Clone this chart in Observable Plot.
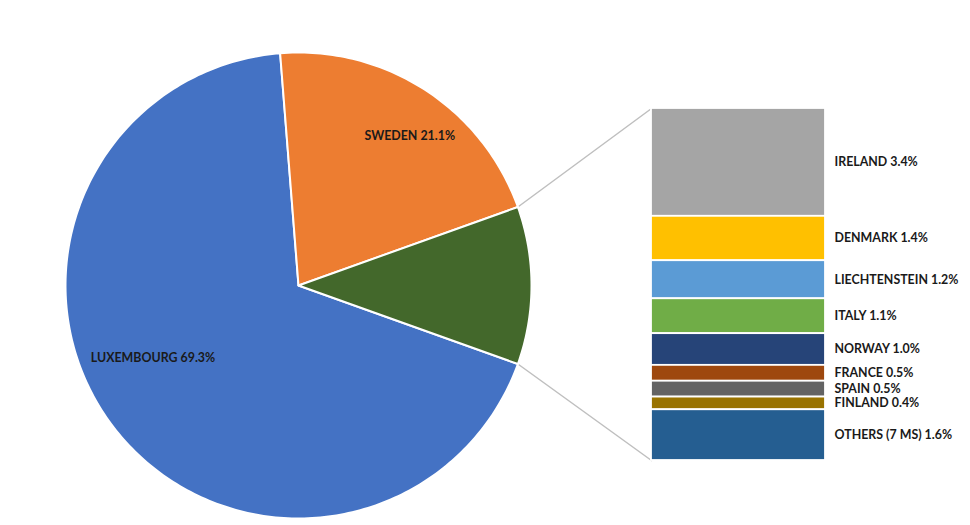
<!DOCTYPE html>
<html><head><meta charset="utf-8">
<script src="https://cdn.jsdelivr.net/npm/d3@7"></script>
<script src="https://cdn.jsdelivr.net/npm/@observablehq/plot@0.6"></script>
<style>body{margin:0;background:#fff;font-family:Lato,sans-serif;}</style>
</head><body><div id="chart"></div>
<script>
// ---- data ----
const pieNames = ["LUXEMBOURG", "SWEDEN", "OTHER"];
const pieValues = [69.3, 21.1, 11.1];
const pieColors = ["#4472C4", "#ED7D31", "#43682B"];
const pieLabels = ["LUXEMBOURG 69.3%", "SWEDEN 21.1%", null];

const barNames = ["IRELAND", "DENMARK", "LIECHTENSTEIN", "ITALY", "NORWAY", "FRANCE", "SPAIN", "FINLAND", "OTHERS (7 MS)"];
const barValues = [3.4, 1.4, 1.2, 1.1, 1.0, 0.5, 0.5, 0.4, 1.6];
const barColors = ["#A5A5A5", "#FFC000", "#5B9BD5", "#70AD47", "#264478", "#9E480E", "#636363", "#997300", "#255E91"];

// ---- layout (unit = pie radius) ----
const W = 970, H = 525, R = 233, cx = 298, cy = 285;
const xDom = [-cx / R, (W - cx) / R];
const yDom = [-(H - cy) / R, cy / R];
const barX1 = (651 - cx) / R, barX2 = (825 - cx) / R;
const barTop = (cy - 108) / R, barBottom = -(460 - cy) / R;
const labelX = (834 - cx) / R;
const FS = 12.4;

const pieTotal = d3.sum(pieValues);
const otherSpan = pieValues[2] / pieTotal * 360;
const slices = [];
{
  const otherStart = 90 - otherSpan / 2, otherEnd = 90 + otherSpan / 2;
  const swedenStart = otherStart - pieValues[1] / pieTotal * 360;
  slices.push({i: 0, a0: otherEnd, a1: swedenStart + 360});
  slices.push({i: 1, a0: swedenStart, a1: otherStart});
  slices.push({i: 2, a0: otherStart, a1: otherEnd});
}
const rad = d => d * Math.PI / 180;
function slicePoly(s) {
  const pts = [{x: 0, y: 0}];
  const n = Math.max(4, Math.ceil(s.a1 - s.a0));
  for (let k = 0; k <= n; k++) {
    const t = rad(s.a0 + (s.a1 - s.a0) * k / n);
    pts.push({x: Math.sin(t), y: Math.cos(t)});
  }
  pts.push({x: 0, y: 0});
  return pts;
}

// pie label placement: radius and pixel nudges
const pieLabelR = [0.7, 0.8, 0];
const pieLabelDx = [-16, 10, 0];
const pieLabelDy = [-27, 7, 0];
const pieText = slices.filter(s => pieLabels[s.i]).map(s => {
  const m = rad((s.a0 + s.a1) / 2), r = pieLabelR[s.i];
  return {x: r * Math.sin(m), y: r * Math.cos(m), text: pieLabels[s.i], dx: pieLabelDx[s.i], dy: pieLabelDy[s.i]};
});

// bar segments
const k = (barTop - barBottom) / d3.sum(barValues);
let cum = 0;
const bars = barNames.map((n, i) => {
  const y1 = barTop - cum * k; cum += barValues[i];
  const y2 = barTop - cum * k;
  return {name: n, value: barValues[i], color: barColors[i], y1, y2, ym: (y1 + y2) / 2,
          label: `${n} ${barValues[i].toFixed(1)}%`};
});

// connectors
const oS = slices[2];
const connectors = [
  [{x: Math.sin(rad(oS.a0)), y: Math.cos(rad(oS.a0))}, {x: barX1, y: barTop}],
  [{x: Math.sin(rad(oS.a1)), y: Math.cos(rad(oS.a1))}, {x: barX1, y: barBottom}]
];

const marks = [];
connectors.forEach(c => marks.push(Plot.line(c, {x: "x", y: "y", stroke: "#bfbfbf", strokeWidth: 1.5})));
slices.forEach(s => marks.push(Plot.line(slicePoly(s), {x: "x", y: "y", fill: pieColors[s.i], stroke: "#fff", strokeWidth: 2, strokeLinejoin: "round"})));
marks.push(Plot.rect(bars, {x1: barX1, x2: barX2, y1: "y1", y2: "y2", fill: "color", stroke: "#fff", strokeWidth: 1.8}));
marks.push(Plot.text(bars, {x: labelX, y: "ym", text: "label", textAnchor: "start", fill: "#1a1a1a", fontWeight: "bold", fontSize: FS}));
pieText.forEach(t => marks.push(Plot.text([t], {x: "x", y: "y", text: "text", dx: t.dx, dy: t.dy, fill: "#1a1a1a", fontWeight: "bold", fontSize: FS})));

const chart = Plot.plot({
  width: W, height: H,
  margin: 0,
  style: {fontFamily: "Lato, sans-serif", background: "#fff"},
  x: {domain: xDom, axis: null},
  y: {domain: yDom, axis: null},
  color: {type: "identity"},
  marks
});
document.getElementById("chart").appendChild(chart);
</script>
</body></html>
